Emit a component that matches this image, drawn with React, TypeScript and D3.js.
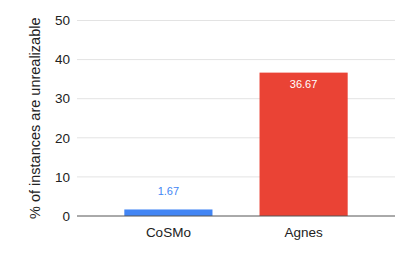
import * as d3 from 'd3'
import { useEffect, useRef } from 'react'

const categories = ['CoSMo', 'Agnes']
const values = [1.67, 36.67]
const barColors = ['#4285f4', '#ea4335']
const labelColors = ['#4285f4', '#ffffff']
const yTicks = [0, 10, 20, 30, 40, 50]
const yTitle = '% of instances are unrealizable'

export default function App() {
  const svgRef = useRef<SVGSVGElement>(null)

  useEffect(() => {
    if (!svgRef.current) return
    const width = 407
    const height = 253
    const left = 77
    const right = 395
    const top = 20.5
    const bottom = 216

    const svg = d3.select(svgRef.current)
    svg.selectAll('*').remove()
    svg.attr('width', width).attr('height', height)

    const x = d3
      .scaleBand<string>()
      .domain(categories)
      .range([left, right])
      .paddingInner(0.348)
      .paddingOuter(0.35)

    const y = d3.scaleLinear().domain([0, 50]).range([bottom, top])

    // grid lines
    svg
      .append('g')
      .selectAll('line')
      .data(yTicks.filter((t) => t !== 0))
      .enter()
      .append('line')
      .attr('x1', left)
      .attr('x2', right)
      .attr('y1', (d: number) => y(d))
      .attr('y2', (d: number) => y(d))
      .attr('stroke', '#e3e3e3')
      .attr('stroke-width', 1)

    // y tick labels
    svg
      .append('g')
      .selectAll('text')
      .data(yTicks)
      .enter()
      .append('text')
      .attr('x', 70)
      .attr('y', (d: number) => y(d))
      .attr('dy', '0.35em')
      .attr('text-anchor', 'end')
      .attr('font-family', 'Liberation Sans, Arial, sans-serif')
      .attr('font-size', 13.5)
      .attr('fill', '#222')
      .text((d: number) => String(d))

    // bars
    svg
      .append('g')
      .selectAll('rect')
      .data(values)
      .enter()
      .append('rect')
      .attr('x', (_d: number, i: number) => x(categories[i]) as number)
      .attr('y', (d: number) => y(d))
      .attr('width', x.bandwidth())
      .attr('height', (d: number) => bottom - y(d))
      .attr('fill', (_d: number, i: number) => barColors[i])

    // baseline
    svg
      .append('line')
      .attr('x1', left)
      .attr('x2', right)
      .attr('y1', y(0))
      .attr('y2', y(0))
      .attr('stroke', '#555')
      .attr('stroke-width', 1)

    // value labels
    svg
      .append('g')
      .selectAll('text')
      .data(values)
      .enter()
      .append('text')
      .attr('x', (_d: number, i: number) => (x(categories[i]) as number) + x.bandwidth() / 2)
      .attr('y', (d: number, i: number) => (i === 0 ? y(d) - 18.5 : y(d) + 11.5))
      .attr('dy', '0.35em')
      .attr('text-anchor', 'middle')
      .attr('font-family', 'Liberation Sans, Arial, sans-serif')
      .attr('font-size', 11)
      .attr('fill', (_d: number, i: number) => labelColors[i])
      .text((d: number) => d.toFixed(2))

    // x labels
    svg
      .append('g')
      .selectAll('text')
      .data(categories)
      .enter()
      .append('text')
      .attr('x', (d: string) => (x(d) as number) + x.bandwidth() / 2)
      .attr('y', 232)
      .attr('dy', '0.35em')
      .attr('text-anchor', 'middle')
      .attr('font-family', 'Liberation Sans, Arial, sans-serif')
      .attr('font-size', 13.5)
      .attr('fill', '#222')
      .text((d: string) => d)

    // y title
    svg
      .append('text')
      .attr('transform', `translate(35,${(top + bottom) / 2}) rotate(-90)`)
      .attr('dy', '0.35em')
      .attr('text-anchor', 'middle')
      .attr('font-family', 'Liberation Sans, Arial, sans-serif')
      .attr('font-size', 14.5)
      .attr('fill', '#222')
      .text(yTitle)
  }, [])

  return (
    <div style={{ position: 'absolute', top: 0, left: 0, background: '#fff' }}>
      <svg ref={svgRef} style={{ display: 'block' }} />
    </div>
  )
}
